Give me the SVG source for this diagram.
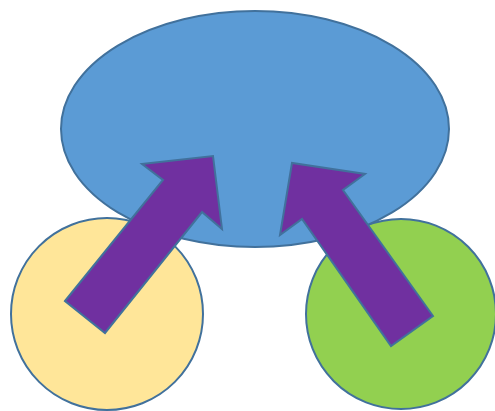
<svg xmlns="http://www.w3.org/2000/svg" width="495" height="411" viewBox="0 0 495 411">
  <style>
    .shape { stroke: #41719C; stroke-width: 2; }
    .arrow { fill: #7030A0; stroke: #41719C; stroke-width: 2; stroke-linejoin: miter; }
  </style>
  <rect x="0" y="0" width="495" height="411" fill="#FFFFFF"/>
  <g id="node-left">
    <circle class="shape" cx="107" cy="314" r="96" fill="#FFE699"/>
  </g>
  <g id="node-right">
    <circle class="shape" cx="401" cy="314" r="95" fill="#92D050"/>
  </g>
  <g id="node-top">
    <ellipse class="shape" cx="255" cy="129" rx="194" ry="118" fill="#5B9BD5"/>
  </g>
  <g id="connectors">
    <polygon class="arrow" points="65,301 163,180 142,164 213,156 222,229 202,212 105,333"/>
    <polygon class="arrow" points="433,316 343,190 365,174 292,163 280,235 302,219 391,346"/>
  </g>
</svg>
